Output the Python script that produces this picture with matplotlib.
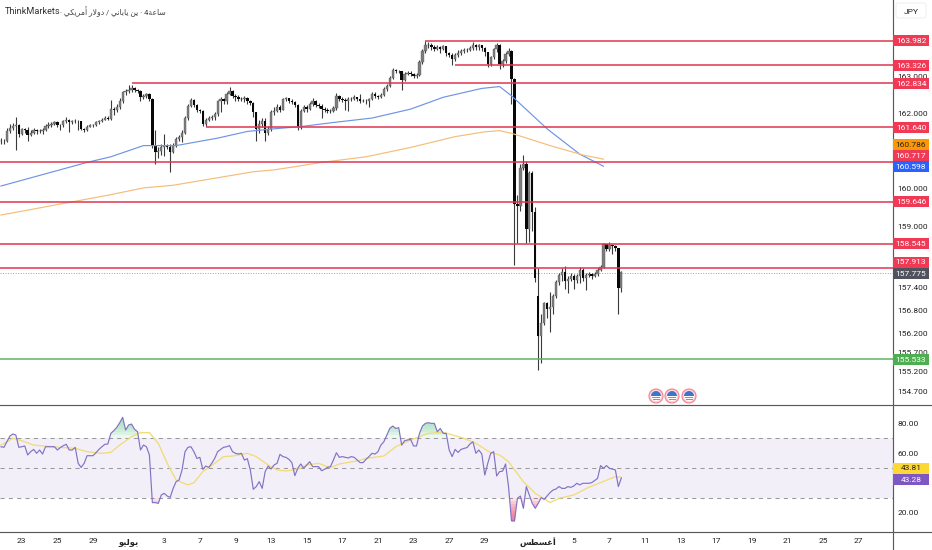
import matplotlib
matplotlib.use("Agg")
import matplotlib.pyplot as plt
from matplotlib.patches import Rectangle, Circle, Wedge, FancyBboxPatch
import numpy as np

plt.rcParams['font.family'] = ['Roboto', 'DejaVu Sans']

# ---------- data ----------
closes = [161.28,161.26,161.55,161.62,161.68,161.70,161.46,161.59,161.57,161.44,
161.50,161.57,161.53,161.55,161.57,161.67,161.71,161.73,161.78,161.71,
161.69,161.80,161.84,161.78,161.80,161.82,161.80,161.59,161.57,161.66,
161.70,161.70,161.77,161.80,161.85,161.89,161.87,162.13,162.11,162.20,
162.36,162.58,162.61,162.65,162.70,162.65,162.63,162.45,162.49,162.54,
162.40,161.15,160.97,161.00,161.10,161.15,161.12,160.99,161.15,161.33,
161.37,161.50,161.89,162.22,162.38,162.25,162.11,162.09,161.73,161.84,
161.89,161.91,162.00,162.34,162.40,162.34,162.54,162.61,162.49,162.45,
162.40,162.40,162.42,162.34,162.29,162.04,161.59,161.73,161.82,161.50,
161.59,162.04,162.09,162.20,162.11,162.40,162.42,162.36,162.31,162.25,
161.64,162.09,162.20,162.13,162.27,162.34,162.25,162.22,162.13,162.11,
162.09,162.09,162.16,162.49,162.40,162.38,162.36,162.40,162.40,162.45,
162.40,162.34,162.36,162.34,162.40,162.55,162.49,162.45,162.52,162.67,
162.76,162.98,163.18,163.17,163.15,162.91,163.09,163.12,163.07,163.03,
163.06,163.40,163.70,163.86,163.88,163.81,163.76,163.81,163.76,163.83,
163.64,163.61,163.49,163.61,163.66,163.70,163.74,163.74,163.79,163.88,
163.81,163.86,163.79,163.67,163.35,163.53,163.76,163.88,163.35,163.42,
163.63,163.70,162.94,159.58,159.55,160.54,160.67,158.94,160.41,159.38,
157.65,156.13,156.46,156.98,156.82,156.89,157.18,157.54,157.72,157.80,
157.57,157.61,157.70,157.59,157.68,157.86,157.65,157.72,157.74,157.70,
157.74,157.86,157.92,158.53,158.40,158.50,158.47,158.42,157.39,157.80]

highs = [161.36,161.33,161.62,161.72,161.76,161.92,161.72,161.63,161.62,161.66,
161.56,161.61,161.60,161.60,161.62,161.73,161.78,161.79,161.82,161.80,
161.74,161.85,161.92,161.87,161.85,161.86,161.85,161.82,161.63,161.70,
161.74,161.74,161.80,161.84,161.89,161.95,161.95,162.37,162.20,162.28,
162.43,162.62,162.68,162.78,162.77,162.73,162.68,162.66,162.55,162.57,
162.57,162.42,161.58,161.12,161.20,161.45,161.20,161.18,161.22,161.38,
161.44,161.58,161.95,162.28,162.42,162.40,162.28,162.14,162.10,161.90,
161.94,161.96,162.05,162.39,162.45,162.44,162.60,162.72,162.66,162.54,
162.50,162.47,162.48,162.45,162.38,162.31,162.06,161.85,161.88,161.88,
161.68,162.10,162.20,162.26,162.24,162.44,162.47,162.44,162.40,162.34,
162.28,162.14,162.25,162.24,162.32,162.42,162.38,162.30,162.27,162.18,
162.15,162.14,162.22,162.56,162.52,162.45,162.42,162.45,162.46,162.50,
162.47,162.55,162.41,162.40,162.44,162.60,162.58,162.52,162.56,162.72,
162.82,163.02,163.24,163.22,163.20,163.17,163.13,163.16,163.15,163.10,
163.10,163.46,163.76,163.98,163.94,163.91,163.86,163.86,163.84,163.88,
163.84,163.68,163.64,163.66,163.72,163.75,163.78,163.79,163.84,163.95,
163.90,163.90,163.88,163.82,163.69,163.58,163.80,163.92,163.90,163.50,
163.68,163.78,163.72,162.96,159.84,160.67,160.89,160.73,160.47,160.48,
159.52,157.89,156.70,157.02,157.00,157.26,157.22,157.58,157.76,157.90,
157.96,157.68,157.78,157.74,157.74,157.92,157.90,157.78,157.80,157.78,
157.80,157.90,157.98,158.57,158.54,158.59,158.53,158.50,158.44,157.83]

lows = [161.20,161.20,161.24,161.50,161.58,161.02,161.38,161.44,161.50,161.28,
161.40,161.47,161.47,161.48,161.45,161.55,161.63,161.66,161.70,161.64,
161.56,161.66,161.76,161.52,161.74,161.76,161.58,161.56,161.52,161.55,
161.64,161.66,161.68,161.74,161.78,161.83,161.84,161.83,161.98,162.05,
162.14,162.30,162.52,162.56,162.60,162.60,162.56,162.35,162.40,162.44,
162.36,161.08,160.65,160.82,160.90,160.88,161.05,160.45,160.95,161.12,
161.28,161.25,161.47,161.85,162.18,162.18,162.05,162.02,161.67,161.68,
161.80,161.84,161.85,161.95,162.05,162.28,162.26,162.50,162.44,162.36,
162.34,162.35,162.32,162.28,162.24,161.92,161.28,161.50,161.64,161.28,
161.44,161.55,161.98,162.04,162.05,162.10,162.36,162.30,162.26,162.20,
161.58,161.60,162.04,162.06,162.10,162.22,162.20,162.16,161.89,162.06,
162.02,162.03,162.04,162.12,162.36,162.32,162.10,162.09,162.35,162.37,
162.34,162.30,162.31,162.28,162.18,162.38,162.44,162.41,162.44,162.48,
162.63,162.72,162.94,163.10,163.10,162.65,162.88,163.04,163.02,162.98,
162.98,163.02,163.36,163.66,163.80,163.74,163.70,163.72,163.66,163.72,
163.58,163.54,163.32,163.42,163.55,163.60,163.66,163.67,163.70,163.74,
163.72,163.72,163.70,163.58,163.28,163.30,163.48,163.68,163.21,163.26,
163.38,163.56,162.27,157.99,158.55,159.40,160.50,158.57,158.59,158.88,
157.54,155.25,155.43,156.40,156.60,156.23,156.70,157.12,157.46,157.56,
157.35,157.25,157.56,157.35,157.52,157.52,157.55,157.33,157.66,157.62,
157.66,157.70,157.82,157.90,158.34,158.36,158.26,158.36,156.70,157.26]

gap_open_bar = 181
gap_open_price = 157.18

blue_bars = [0,29,37,48,59,73,83,92,101,112,125,138,149,162,168,172,184,195,203]
blue_vals = [160.07,160.70,160.85,161.15,161.15,161.35,161.53,161.60,161.66,161.77,161.89,162.13,162.45,162.69,162.74,162.49,161.60,160.92,160.598]
orange_bars = [0,7,22,37,48,58,73,85,92,101,108,123,138,153,163,168,172,185,196,203]
orange_vals = [159.30,159.40,159.62,159.84,160.02,160.09,160.29,160.45,160.50,160.61,160.70,160.85,161.10,161.39,161.52,161.55,161.48,161.15,160.90,160.786]

level_prices = [163.982,163.326,162.834,161.640,160.717,159.646,158.545,157.913]
level_start_bars = [143,153,44,69,None,None,None,None]
support_price = 155.533
last_price = 157.775

rsi = [64.2,63.8,67.5,71.3,72.7,72.0,63.8,64.2,64.7,58.7,60.9,62.4,59.8,62.0,59.3,64.2,64.2,64.2,64.2,62.0,
63.6,64.9,65.8,62.0,62.0,63.8,53.1,50.4,53.1,58.2,58.2,58.2,60.2,62.4,64.2,65.8,66.0,73.1,74.9,77.1,
80.2,83.8,75.3,78.7,79.3,75.8,74.2,62.0,65.3,64.2,58.7,26.9,26.9,26.4,32.0,33.1,31.3,30.4,36.4,40.9,
42.0,48.7,60.9,63.8,64.2,60.9,56.4,57.1,49.1,51.3,50.4,53.1,56.4,60.9,62.4,63.8,64.2,64.9,60.9,59.8,
59.3,59.8,55.3,56.2,48.7,35.8,37.6,40.9,36.4,47.6,51.3,49.3,52.0,53.1,59.1,57.6,57.1,55.8,53.6,44.9,
49.8,52.7,49.8,52.0,54.2,50.9,50.9,50.9,48.2,49.1,50.4,50.9,55.3,60.2,57.1,57.6,57.1,56.7,57.6,57.1,
55.3,53.6,53.6,55.8,57.6,59.8,59.3,60.9,65.3,67.5,72.0,76.4,78.0,76.4,76.9,65.3,68.2,68.7,69.1,64.7,
64.7,73.1,78.0,79.8,80.2,79.8,79.8,74.2,76.4,73.1,73.1,62.0,57.6,62.4,60.4,62.4,63.1,63.6,66.0,67.5,
59.8,62.0,59.3,45.3,53.1,59.8,60.9,44.7,47.6,47.9,52.7,37.6,14.7,14.7,29.8,31.3,23.1,37.6,32.0,26.4,
23.1,26.4,30.2,29.1,31.3,33.6,35.3,36.0,37.6,36.4,36.4,37.6,37.1,38.0,39.8,38.7,39.8,39.8,39.8,40.2,
41.6,43.1,51.6,49.8,51.6,49.8,49.3,48.7,37.6,43.28]

ma_bars = [0,4,7,11,17,25,29,34,37,40,44,47,50,53,56,59,63,65,68,72,75,78,83,86,90,93,96,100,103,107,111,114,120,123,129,133,138,141,144,149,156,160,165,168,171,176,180,185,188,193,198,207,209]
ma_vals = [65.3,69.8,68.2,65.3,64.2,63.1,60.9,59.8,60.4,65.3,70.9,73.6,73.6,66.4,53.1,42.0,38.7,40.2,47.6,53.1,57.6,58.0,59.8,57.6,52.0,48.7,48.0,49.1,52.0,53.1,50.2,52.7,54.7,56.4,58.0,64.2,68.7,70.9,73.1,73.8,69.8,66.4,60.2,58.7,54.2,40.9,33.1,26.9,29.8,32.0,37.1,44.2,43.81]

time_tick_bars = [7,19,31,43,55,67,79,91,103,115,127,139,151,163,181,193,205,217,229,241,253,265,277,289]
time_tick_labels = ['23','25','29','يوليو','3','7','9','13','15','17','21','23','27','29','أغسطس','5','7','11','13','17','19','21','25','27']
price_ticks = [163.0,162.0,160.0,159.0,157.4,156.8,156.2,155.7,155.2,154.7]
rsi_ticks = [80,60,40,20]
rsi_last = 43.28
rsi_ma_last = 43.81

# ---------- Arabic shaping (matplotlib lays text out left to right, unshaped) ----------
FORMS = {'د':(0xFEA9,0xFEAA),'و':(0xFEED,0xFEEE),'ا':(0xFE8D,0xFE8E),'ر':(0xFEAD,0xFEAE),
         'أ':(0xFE83,0xFE84),'ة':(0xFE93,0xFE94),
         'ل':(0xFEDD,0xFEDE,0xFEDF,0xFEE0),'م':(0xFEE1,0xFEE2,0xFEE3,0xFEE4),
         'ي':(0xFEF1,0xFEF2,0xFEF3,0xFEF4),'ك':(0xFED9,0xFEDA,0xFEDB,0xFEDC),
         'ن':(0xFEE5,0xFEE6,0xFEE7,0xFEE8),'ب':(0xFE8F,0xFE90,0xFE91,0xFE92),
         'س':(0xFEB1,0xFEB2,0xFEB3,0xFEB4),'ع':(0xFEC9,0xFECA,0xFECB,0xFECC),
         'ط':(0xFEC1,0xFEC2,0xFEC3,0xFEC4),'غ':(0xFECD,0xFECE,0xFECF,0xFED0)}

def shape(word):
    out, joined, i = [], False, 0
    while i < len(word):
        ch = word[i]
        if ch == 'ل' and i + 1 < len(word) and word[i + 1] == 'ا':
            out.append(chr(0xFEFC if joined else 0xFEFB))
            joined, i = False, i + 2
            continue
        forms = FORMS[ch]
        has_next = i + 1 < len(word)
        if len(forms) == 2:
            out.append(chr(forms[1] if joined else forms[0]))
            joined = False
        else:
            if joined and has_next:
                out.append(chr(forms[3]))
            elif joined:
                out.append(chr(forms[1]))
            elif has_next:
                out.append(chr(forms[2]))
            else:
                out.append(chr(forms[0]))
            joined = has_next
        i += 1
    return ''.join(reversed(out))

def display(label):
    return shape(label) if label and label[0] in FORMS else label

# ---------- layout ----------
W, H = 932, 550
AX_X, DIV_Y, BOT_Y = 893, 404, 532
PITCH, OFFSET = 2.968, 1.0
xlim = (-OFFSET / PITCH, (AX_X - OFFSET) / PITCH)

fig = plt.figure(figsize=(W / 100, H / 100), dpi=100, facecolor='white')
ax = fig.add_axes([0, 1 - DIV_Y / H, AX_X / W, DIV_Y / H])
ax2 = fig.add_axes([0, 1 - BOT_Y / H, AX_X / W, (BOT_Y - DIV_Y) / H])
over = fig.add_axes([0, 0, 1, 1], zorder=10)
over.set_xlim(0, W); over.set_ylim(H, 0); over.axis('off'); over.patch.set_alpha(0)

TXT = '#222222'
FS = 6.0

# ---------- main pane ----------
x = np.arange(len(closes))
c = np.array(closes)
o = np.r_[c[0], c[:-1]]
o[gap_open_bar] = gap_open_price
h = np.array(highs)
l = np.array(lows)
ax.set_yscale('log')
ax.set_xlim(*xlim)
ax.set_ylim(154.37, 165.1)
ax.vlines(x, l, h, color='#3a3a3a', lw=0.8, zorder=3)
up = c >= o
ax.bar(x[up], (c - o)[up], bottom=o[up], width=0.78, color='#7d7d7d', edgecolor='#555555', lw=0.25, zorder=4)
ax.bar(x[~up], (c - o)[~up], bottom=o[~up], width=0.82, color='#080808', lw=0, zorder=4)

ax.plot(blue_bars, blue_vals, color='#6f94e6', lw=0.85, zorder=5)
ax.plot(orange_bars, orange_vals, color='#f6bd78', lw=0.85, zorder=5)
for price, start in zip(level_prices, level_start_bars):
    x0 = xlim[0] if start is None else start
    ax.plot([x0, xlim[1]], [price, price], color='#e0344f', lw=1.1, zorder=6, solid_capstyle='butt')
ax.plot([xlim[0], xlim[1]], [support_price] * 2, color='#5fb362', lw=1.1, zorder=6)
ax.plot([xlim[0], xlim[1]], [last_price] * 2, color='#a9a0a0', lw=0.7, ls=(0, (1, 1.6)), zorder=2)

ax.yaxis.tick_right()
ax.set_yticks(price_ticks)
ax.set_yticklabels(['%.3f' % t for t in price_ticks], fontsize=FS, color=TXT)
ax.minorticks_off()
ax.tick_params(axis='y', length=0, pad=3.3)
ax.set_xticks([])
for s in ax.spines.values():
    s.set_visible(False)

# ---------- RSI pane ----------
ax2.set_xlim(*xlim)
ax2.set_ylim(7.3, 92.7)
rv = np.array(rsi)
xr = np.arange(len(rv))
ax2.axhspan(30, 70, color='#7e57c2', alpha=0.09, lw=0, zorder=1)
for lvl in (70, 50, 30):
    ax2.axhline(lvl, color='#9a9a9a', lw=0.75, ls=(0, (4, 4)), zorder=2)
for t in range(70, 86, 2):
    ax2.fill_between(xr, t, rv, where=rv > t, interpolate=True, color='#7ccf9a', alpha=0.14, lw=0, zorder=2)
for t in range(30, 12, -2):
    ax2.fill_between(xr, t, rv, where=rv < t, interpolate=True, color='#f0507a', alpha=0.16, lw=0, zorder=2)
ax2.plot(ma_bars, ma_vals, color='#f1db79', lw=0.95, zorder=3)
ax2.plot(xr, rv, color='#8172c4', lw=0.85, zorder=4)
ax2.yaxis.tick_right()
ax2.set_yticks(rsi_ticks)
ax2.set_yticklabels(['%.2f' % t for t in rsi_ticks], fontsize=FS, color=TXT)
ax2.tick_params(axis='y', length=0, pad=3.3)
ax2.set_xticks(time_tick_bars)
ax2.set_xticklabels([display(t) for t in time_tick_labels], fontsize=FS, color=TXT)
for lab, raw in zip(ax2.get_xticklabels(), time_tick_labels):
    if raw[0] in FORMS:
        lab.set_fontweight('bold')
ax2.tick_params(axis='x', length=0, pad=4)
for s in ax2.spines.values():
    s.set_visible(False)

# ---------- frame lines ----------
frame = '#5a5a5a'
over.plot([AX_X, AX_X], [0, H], color=frame, lw=0.85, zorder=1)
over.plot([0, W], [DIV_Y + 0.5, DIV_Y + 0.5], color=frame, lw=0.85, zorder=1)
over.plot([0, W], [BOT_Y, BOT_Y], color=frame, lw=0.85, zorder=1)

# ---------- price labels ----------
RED = '#f03a55'
labels = [('163.982', 40.7, RED, 'white'), ('163.326', 65, RED, 'white'), ('162.834', 83, RED, 'white'),
          ('161.640', 127, RED, 'white'), ('160.786', 144.5, '#ff9800', '#222222'), ('160.717', 155.7, RED, 'white'),
          ('160.598', 166.7, '#2962ff', 'white'), ('159.646', 201.5, RED, 'white'), ('158.545', 243.5, RED, 'white'),
          ('157.913', 262, RED, 'white'), ('157.775', 273, '#50535e', 'white'), ('155.533', 359, '#4caf50', 'white'),
          ('%.2f' % rsi_ma_last, 468, '#fdd835', '#222222'), ('%.2f' % rsi_last, 479, '#7e57c2', 'white')]
for txt, yp, bg, fg in labels:
    over.add_patch(Rectangle((AX_X, yp - 5.5), 35.5, 11, fc=bg, ec='none', zorder=3))
    over.text(AX_X + 18, yp, txt, color=fg, fontsize=FS, ha='center', va='center_baseline', zorder=4)

over.add_patch(FancyBboxPatch((896, 3), 30, 15, boxstyle='round,pad=0,rounding_size=2', fc='white', ec='#eeeeee', lw=0.7, zorder=3))
over.text(911, 11, 'JPY', fontsize=FS, color=TXT, ha='center', va='center_baseline', zorder=4)

# ---------- title ----------
over.text(5, 11, 'ThinkMarkets', fontsize=6.6, color='#333333', ha='left', va='center_baseline', zorder=4)
title_ar = ('· ' + shape('أمريكي') + ' ' + shape('دولار') + ' / ' + shape('ياباني') + ' ' + shape('ين')
            + ' · 4' + shape('ساعة'))
over.text(60, 11, title_ar, fontsize=5.5, color='#444444', ha='left', va='center_baseline', zorder=4)

# ---------- event flags ----------
for fx in (656, 672, 689):
    over.add_patch(Circle((fx, 396), 7, fc='#fbd5da', ec='#f0808f', lw=0.8, zorder=3))
    over.add_patch(Circle((fx, 396), 5, fc='white', ec='none', zorder=4))
    over.add_patch(Wedge((fx, 396), 5, 180, 360, fc='#3f74c9', ec='none', zorder=5))
    over.add_patch(Rectangle((fx - 4.4, 397), 8.8, 1.2, fc='#ee6a7c', ec='none', zorder=6))
    over.add_patch(Rectangle((fx - 3.5, 399.2), 7, 1.1, fc='#ee6a7c', ec='none', zorder=6))

fig.savefig('out.png', dpi=100)
